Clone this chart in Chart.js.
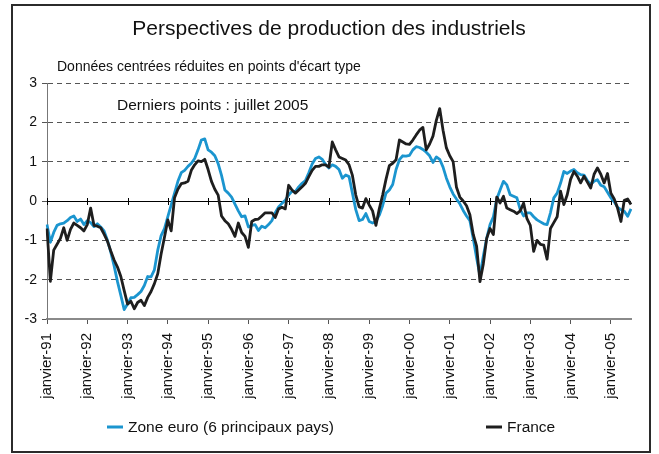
<!DOCTYPE html>
<html lang="fr">
<head>
<meta charset="utf-8">
<title>Perspectives de production des industriels</title>
<script src="https://cdn.jsdelivr.net/npm/chart.js@4.4.1/dist/chart.umd.min.js"></script>
<style>
    html, body { margin: 0; padding: 0; background: #fff; }
    #wrap { position: relative; width: 659px; height: 454px; }
    #wrap canvas { position: absolute; left: 0; top: 0; }
    #frame { position: absolute; left: 11px; top: 4px; width: 636px; height: 445px; border: 2px solid #2b2b2b; pointer-events: none; }
</style>
</head>
<body>
<div id="wrap">
    <canvas id="prodChart" width="659" height="454"></canvas>
    <div id="frame"></div>
</div>
<script>
// --- DONNEES (mensuelles janvier-91 -> juillet-05) ---
const annees = ['91', '92', '93', '94', '95', '96', '97', '98', '99', '00', '01', '02', '03', '04', '05'];
const nomsMois = ['janvier', 'février', 'mars', 'avril', 'mai', 'juin', 'juillet', 'août', 'septembre', 'octobre', 'novembre', 'décembre'];
const nbMois = 175;

// etiquettes de l'axe des abscisses (une par an)
const xTickLabels = annees.map(a => 'janvier-' + a);
const yTicks = [-3, -2, -1, 0, 1, 2, 3];

const zoneEuro = [
    -0.60, -1.05, -0.80, -0.62, -0.58, -0.56, -0.50, -0.42, -0.38, -0.52, -0.46, -0.60,
    -0.50, -0.55, -0.65, -0.58, -0.66, -0.76, -1.00, -1.30, -1.65, -2.05, -2.40, -2.76,
    -2.62, -2.46, -2.45, -2.38, -2.30, -2.15, -1.92, -1.93, -1.75, -1.25, -0.88, -0.70,
    -0.40, -0.10, 0.20, 0.50, 0.72, 0.78, 0.88, 0.96, 1.08, 1.30, 1.55, 1.58,
    1.30, 1.24, 1.15, 0.95, 0.65, 0.28, 0.20, 0.10, -0.08, -0.25, -0.40, -0.38,
    -0.66, -0.62, -0.60, -0.75, -0.64, -0.68, -0.60, -0.50, -0.30, -0.15, -0.06, 0.02,
    0.15, 0.25, 0.24, 0.36, 0.45, 0.52, 0.72, 0.94, 1.08, 1.12, 1.06, 0.93,
    0.84, 0.92, 0.88, 0.80, 0.58, 0.66, 0.62, 0.20, -0.22, -0.50, -0.47, -0.32,
    -0.52, -0.56, -0.52, -0.36, -0.12, 0.20, 0.28, 0.42, 0.80, 1.05, 1.15, 1.14,
    1.16, 1.30, 1.38, 1.36, 1.31, 1.24, 1.15, 0.98, 1.12, 1.06, 0.86, 0.58,
    0.36, 0.18, 0.05, -0.07, -0.24, -0.38, -0.50, -0.95, -1.45, -1.90, -1.40, -0.95,
    -0.60, -0.40, 0.05, 0.28, 0.50, 0.41, 0.16, 0.12, 0.08, -0.22, -0.38, -0.30,
    -0.30, -0.40, -0.48, -0.53, -0.58, -0.60, -0.30, 0.08, 0.20, 0.45, 0.75, 0.70,
    0.76, 0.80, 0.72, 0.67, 0.66, 0.52, 0.42, 0.50, 0.54, 0.40, 0.36, 0.22,
    0.08, -0.02, -0.16, -0.22, -0.26, -0.39, -0.20
];

const france = [
    -0.70, -2.04, -1.25, -1.10, -0.95, -0.68, -1.00, -0.72, -0.56, -0.62, -0.68, -0.76,
    -0.60, -0.18, -0.62, -0.64, -0.68, -0.84, -1.02, -1.27, -1.50, -1.68, -1.92, -2.28,
    -2.62, -2.55, -2.74, -2.58, -2.52, -2.66, -2.45, -2.30, -2.10, -1.85, -1.35, -0.92,
    -0.48, -0.76, 0.08, 0.30, 0.44, 0.46, 0.50, 0.78, 0.92, 1.02, 1.00, 1.06,
    0.80, 0.50, 0.30, 0.15, -0.38, -0.50, -0.58, -0.72, -0.90, -0.56, -0.80, -0.90,
    -1.18, -0.52, -0.47, -0.46, -0.38, -0.30, -0.30, -0.30, -0.42, -0.20, -0.16, -0.20,
    0.40, 0.28, 0.20, 0.28, 0.36, 0.45, 0.62, 0.78, 0.88, 0.88, 0.92, 0.92,
    0.86, 1.50, 1.30, 1.12, 1.08, 1.04, 0.92, 0.65, 0.15, -0.15, -0.18, 0.06,
    -0.10, -0.25, -0.62, -0.20, 0.15, 0.55, 0.90, 0.96, 1.05, 1.55, 1.50, 1.45,
    1.44, 1.55, 1.68, 1.80, 1.87, 1.30, 1.45, 1.65, 2.05, 2.35, 1.80, 1.35,
    1.15, 1.00, 0.35, 0.10, 0.00, -0.12, -0.35, -0.85, -1.15, -2.05, -1.60, -0.95,
    -0.70, -0.85, 0.10, -0.05, 0.12, -0.18, -0.22, -0.26, -0.32, -0.25, -0.05, -0.45,
    -0.62, -1.28, -1.00, -1.10, -1.12, -1.48, -0.70, -0.55, -0.40, 0.25, -0.09, 0.16,
    0.55, 0.75, 0.63, 0.46, 0.63, 0.48, 0.33, 0.68, 0.84, 0.68, 0.46, 0.70,
    0.20, 0.05, -0.18, -0.52, 0.02, 0.05, -0.09
];

const couleurEuro = '#1b95cf';
const couleurFrance = '#1e1e1e';
const police = "'Liberation Sans', Arial, sans-serif";

// categories : un libelle par mois
const mois = [];
annees.forEach(a => nomsMois.forEach(m => mois.push(m + '-' + a)));
mois.length = nbMois;

// Titre, textes et legende dessines a la main (positions comme sur l'original)
const decorPlugin = {
    id: 'decor',
    beforeDatasetsDraw(chart) {
        // petits traits sur la ligne du zero
        const ctx = chart.ctx;
        const xs = chart.scales.x, ys = chart.scales.y;
        const y0 = ys.getPixelForValue(0);
        ctx.save();
        ctx.strokeStyle = '#000';
        ctx.lineWidth = 1;
        for (let i = 0; i < nbMois; i += 12) {
            const x = Math.round(xs.getPixelForValue(i)) + 0.5;
            ctx.beginPath();
            ctx.moveTo(x, y0 - 3);
            ctx.lineTo(x, y0 + 4);
            ctx.stroke();
        }
        ctx.restore();
    },
    afterDraw(chart) {
        const ctx = chart.ctx;
        ctx.save();
        ctx.fillStyle = '#111';
        ctx.textBaseline = 'middle';

        ctx.textAlign = 'center';
        ctx.font = '21px ' + police;
        ctx.fillText('Perspectives de production des industriels', 329, 29);

        ctx.textAlign = 'left';
        ctx.font = '14px ' + police;
        ctx.fillText("Données centrées réduites en points d'écart type", 57, 67);

        ctx.font = '15.5px ' + police;
        ctx.fillText('Derniers points : juillet 2005', 117, 106);

        // legende
        const legende = [
            { label: 'Zone euro (6 principaux pays)', color: couleurEuro, x: 107 },
            { label: 'France', color: couleurFrance, x: 486 }
        ];
        legende.forEach(item => {
            ctx.strokeStyle = item.color;
            ctx.lineWidth = 3;
            ctx.beginPath();
            ctx.moveTo(item.x, 427);
            ctx.lineTo(item.x + 16, 427);
            ctx.stroke();
            ctx.fillStyle = '#111';
            ctx.font = '15.5px ' + police;
            ctx.fillText(item.label, item.x + 21, 428);
        });
        ctx.restore();
    }
};

let chartInstance = null;

function renderChart() {
    const ctx = document.getElementById('prodChart').getContext('2d');
    if (chartInstance) { chartInstance.destroy(); }

    chartInstance = new Chart(ctx, {
        type: 'line',
        data: {
            labels: mois,
            datasets: [
                {
                    label: 'Zone euro (6 principaux pays)',
                    data: zoneEuro,
                    borderColor: couleurEuro,
                    borderWidth: 2.8,
                    pointRadius: 0,
                    tension: 0,
                    borderJoinStyle: 'round',
                    order: 1
                },
                {
                    label: 'France',
                    data: france,
                    borderColor: couleurFrance,
                    borderWidth: 2.8,
                    pointRadius: 0,
                    tension: 0,
                    borderJoinStyle: 'round',
                    order: 0
                }
            ]
        },
        options: {
            responsive: false,
            animation: false,
            layout: { padding: { top: 83, right: 28, left: 0, bottom: 0 } },
            plugins: {
                legend: { display: false },
                title: { display: false },
                tooltip: { enabled: false }
            },
            scales: {
                x: {
                    type: 'category',
                    afterFit: s => { s.height = 135; },
                    grid: {
                        drawOnChartArea: false,
                        tickLength: 5,
                        tickColor: c => (c.index % 12 === 0 ? '#555' : 'rgba(0,0,0,0)')
                    },
                    border: { color: '#8a8a8a', width: 2 },
                    ticks: {
                        autoSkip: false,
                        minRotation: 90,
                        maxRotation: 90,
                        padding: 9,
                        color: '#111',
                        font: { family: police, size: 15 },
                        callback: (val, idx) => (idx % 12 === 0 ? xTickLabels[idx / 12] : '')
                    }
                },
                y: {
                    min: yTicks[0],
                    max: yTicks[yTicks.length - 1],
                    afterFit: s => { s.width = 47; },
                    afterBuildTicks: s => { s.ticks = yTicks.map(v => ({ value: v })); },
                    grid: {
                        color: c => (c.tick.value === 0 ? '#000' : (c.tick.value === -3 ? 'rgba(0,0,0,0)' : '#555')),
                        lineWidth: 1,
                        tickLength: 5,
                        tickColor: '#555'
                    },
                    border: {
                        color: '#777',
                        width: 1,
                        dash: c => (c.tick && c.tick.value !== 0 ? [5, 4] : [])
                    },
                    ticks: {
                        padding: 5,
                        color: '#111',
                        font: { family: police, size: 14 }
                    }
                }
            }
        },
        plugins: [decorPlugin]
    });
}

renderChart();
</script>
</body>
</html>
